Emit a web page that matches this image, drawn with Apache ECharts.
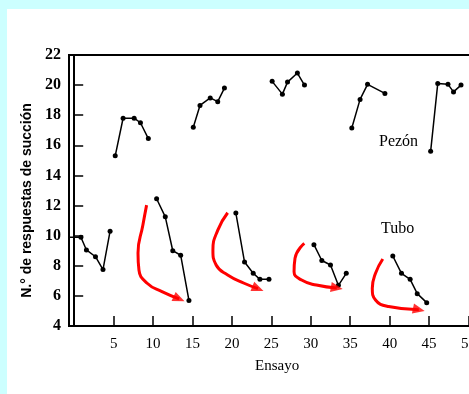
<!DOCTYPE html>
<html>
<head>
<meta charset="utf-8">
<script src="https://cdn.jsdelivr.net/npm/echarts@6/dist/echarts.min.js"></script>
<style>
html,body{margin:0;padding:0;width:469px;height:394px;background:#ccffff;overflow:hidden;}
#c{position:absolute;left:7px;top:9px;width:472px;height:385px;background:#ffffff;}
</style>
</head>
<body>
<div id="c"></div>
<script>
// ---- data ----
const xTickValues = [5, 10, 15, 20, 25, 30, 35, 40, 45, 50];
const yMin = 4, yMax = 22, yStep = 2;

// "Tubo" sessions (trial position, responses)
const tuboX = [
  [-0.6, 0.85, 1.55, 2.7, 3.65, 4.55],
  [10.45, 11.55, 12.5, 13.5, 14.55],
  [20.5, 21.6, 22.7, 23.55, 24.7],
  [30.4, 31.4, 32.5, 33.5, 34.5],
  [40.4, 41.5, 42.6, 43.5, 44.7]
];
const tuboY = [
  [9.9, 9.9, 9.05, 8.6, 7.75, 10.3],
  [12.45, 11.25, 9.0, 8.7, 5.7],
  [11.5, 8.25, 7.5, 7.1, 7.1],
  [9.4, 8.35, 8.05, 6.7, 7.5],
  [8.65, 7.5, 7.1, 6.15, 5.55]
];

// "Pezón" sessions
const pezonX = [
  [5.2, 6.2, 7.6, 8.4, 9.4],
  [15.1, 15.95, 17.25, 18.2, 19.05],
  [25.1, 26.4, 27.05, 28.3, 29.2],
  [35.2, 36.25, 37.2, 39.4],
  [45.2, 46.1, 47.4, 48.1, 49.05]
];
const pezonY = [
  [15.3, 17.8, 17.8, 17.5, 16.45],
  [17.2, 18.65, 19.15, 18.9, 19.8],
  [20.25, 19.4, 20.2, 20.8, 20.0],
  [17.15, 19.05, 20.05, 19.45],
  [15.6, 20.1, 20.05, 19.55, 20.0]
];

// red hand-drawn annotation arrows (in data units)
const arrowX = [
  [9.18, 8.71, 8.09, 8.21, 9.25, 11.13, 13.3],
  [19.46, 18.21, 17.59, 18.0, 19.46, 21.55, 23.3],
  [29.18, 28.0, 27.88, 28.84, 30.71, 33.3],
  [39.13, 38.21, 37.8, 38.21, 39.87, 43.7]
];
const arrowY = [
  [12.03, 10.71, 8.85, 7.72, 6.84, 6.28, 5.8],
  [11.52, 10.37, 9.05, 8.05, 7.39, 6.84, 6.48],
  [9.49, 8.5, 7.61, 7.05, 6.72, 6.52],
  [8.45, 7.5, 6.5, 5.73, 5.29, 5.08]
];
const arrowHeadAngle = [-114, -112, -100, -102];

const labelPezon = 'Pezón';
const labelTubo = 'Tubo';
const xName = 'Ensayo';
const yName = 'N.° de respuestas de succión';

// ---- build chart ----
const series = [];
function addGroups(xs, ys) {
  xs.forEach((g, i) => {
    series.push({
      type: 'line',
      data: g.map((x, j) => [x, ys[i][j]]),
      symbol: 'circle',
      symbolSize: (v) => (v[0] < 0 ? 0 : 5),
      showSymbol: true,
      lineStyle: { color: '#000', width: 1.5 },
      itemStyle: { color: '#000' },
      animation: false,
      silent: true,
      z: 3
    });
  });
}
addGroups(tuboX, tuboY);
addGroups(pezonX, pezonY);

arrowX.forEach((g, i) => {
  const pts = g.map((x, j) => [x, arrowY[i][j]]);
  series.push({
    type: 'line',
    data: pts,
    smooth: 0.5,
    showSymbol: false,
    symbol: 'none',
    lineStyle: { color: '#ff0000', width: 3 },
    animation: false,
    silent: true,
    z: 4
  });
  series.push({
    type: 'scatter',
    data: [pts[pts.length - 1]],
    symbol: 'triangle',
    symbolSize: [10, 12],
    symbolRotate: arrowHeadAngle[i],
    itemStyle: { color: '#ff0000' },
    animation: false,
    silent: true,
    z: 5
  });
});

const chart = echarts.init(document.getElementById('c'), null, { renderer: 'canvas' });
chart.setOption({
  animation: false,
  backgroundColor: '#ffffff',
  grid: {
    left: 62, top: 46, right: 0, bottom: 68,
    show: true, borderColor: '#000', borderWidth: 2, backgroundColor: 'transparent'
  },
  xAxis: {
    type: 'value',
    min: -0.66, max: 50.6,
    name: xName,
    nameLocation: 'middle',
    nameGap: 33,
    nameTextStyle: { fontFamily: 'Liberation Serif', fontSize: 15, color: '#000', padding: [0, 0, 0, 12] },
    axisLine: { show: true, lineStyle: { color: '#000', width: 2 } },
    axisTick: { show: true, inside: true, length: 10, customValues: xTickValues, lineStyle: { color: '#000', width: 1.5 } },
    axisLabel: { customValues: xTickValues, margin: 11, fontFamily: 'Liberation Serif', fontSize: 15, color: '#000' },
    splitLine: { show: false }
  },
  yAxis: {
    type: 'value',
    min: yMin, max: yMax, interval: yStep,
    name: yName,
    nameLocation: 'middle',
    nameGap: 34,
    nameTextStyle: { fontFamily: 'Liberation Sans', fontSize: 14, fontWeight: 'bold', color: '#000', padding: [0, 20, 0, 0] },
    axisLine: { show: true, lineStyle: { color: '#000', width: 2 } },
    axisTick: { show: true, inside: true, length: 9, lineStyle: { color: '#000', width: 1.5 } },
    axisLabel: { margin: 8, fontFamily: 'Liberation Serif', fontSize: 16, fontWeight: 'bold', color: '#000' },
    splitLine: { show: false }
  },
  graphic: [
    { type: 'text', left: 372, top: 125, style: { text: labelPezon, font: '16px "Liberation Serif"', fill: '#000' } },
    { type: 'text', left: 374, top: 212, style: { text: labelTubo, font: '16px "Liberation Serif"', fill: '#000' } }
  ],
  series: series
});
</script>
</body>
</html>
